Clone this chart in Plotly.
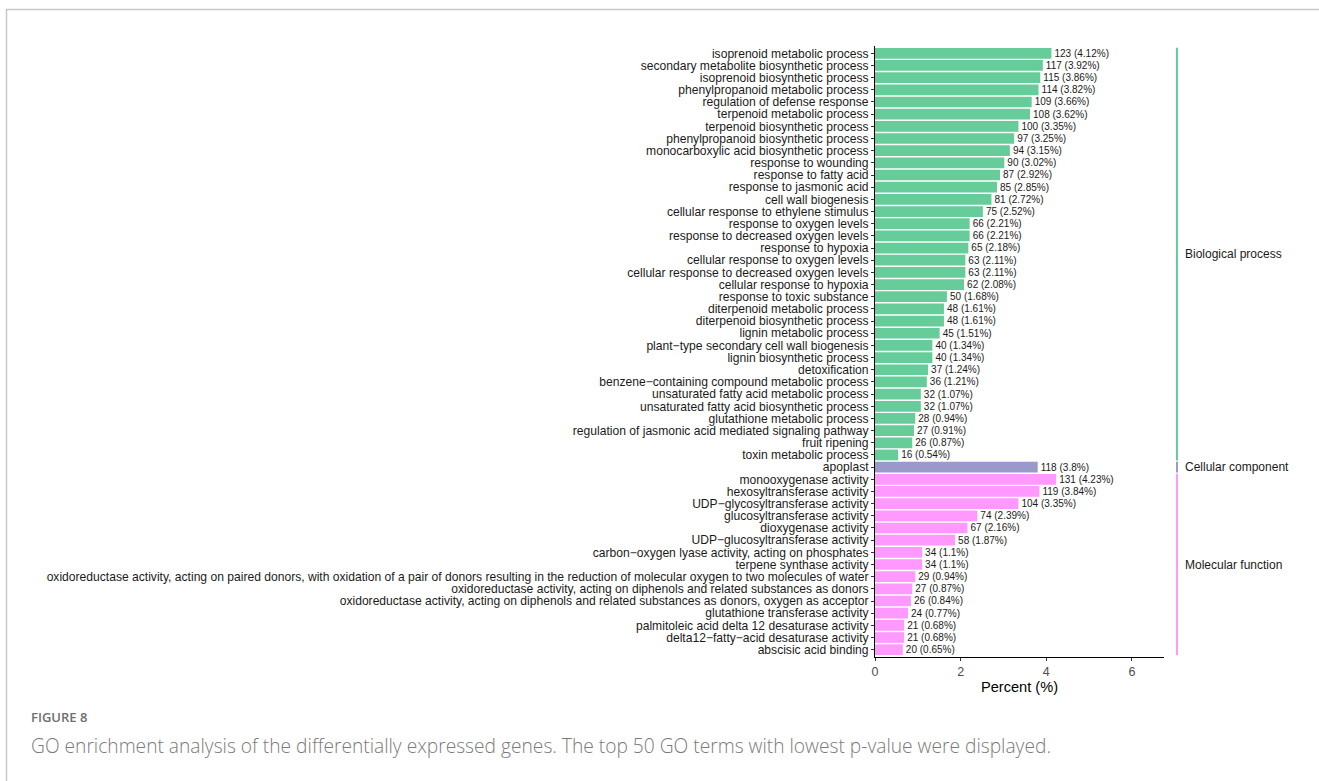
import plotly.graph_objects as go

# GO terms, top to bottom
bp_terms = [
    "isoprenoid metabolic process",
    "secondary metabolite biosynthetic process",
    "isoprenoid biosynthetic process",
    "phenylpropanoid metabolic process",
    "regulation of defense response",
    "terpenoid metabolic process",
    "terpenoid biosynthetic process",
    "phenylpropanoid biosynthetic process",
    "monocarboxylic acid biosynthetic process",
    "response to wounding",
    "response to fatty acid",
    "response to jasmonic acid",
    "cell wall biogenesis",
    "cellular response to ethylene stimulus",
    "response to oxygen levels",
    "response to decreased oxygen levels",
    "response to hypoxia",
    "cellular response to oxygen levels",
    "cellular response to decreased oxygen levels",
    "cellular response to hypoxia",
    "response to toxic substance",
    "diterpenoid metabolic process",
    "diterpenoid biosynthetic process",
    "lignin metabolic process",
    "plant\u2212type secondary cell wall biogenesis",
    "lignin biosynthetic process",
    "detoxification",
    "benzene\u2212containing compound metabolic process",
    "unsaturated fatty acid metabolic process",
    "unsaturated fatty acid biosynthetic process",
    "glutathione metabolic process",
    "regulation of jasmonic acid mediated signaling pathway",
    "fruit ripening",
    "toxin metabolic process",
]
bp_counts = [123, 117, 115, 114, 109, 108, 100, 97, 94, 90, 87, 85, 81, 75, 66, 66, 65,
             63, 63, 62, 50, 48, 48, 45, 40, 40, 37, 36, 32, 32, 28, 27, 26, 16]
bp_percent = [4.12, 3.92, 3.86, 3.82, 3.66, 3.62, 3.35, 3.25, 3.15, 3.02, 2.92, 2.85, 2.72,
              2.52, 2.21, 2.21, 2.18, 2.11, 2.11, 2.08, 1.68, 1.61, 1.61, 1.51, 1.34, 1.34,
              1.24, 1.21, 1.07, 1.07, 0.94, 0.91, 0.87, 0.54]

cc_terms = ["apoplast"]
cc_counts = [118]
cc_percent = [3.8]

mf_terms = [
    "monooxygenase activity",
    "hexosyltransferase activity",
    "UDP\u2212glycosyltransferase activity",
    "glucosyltransferase activity",
    "dioxygenase activity",
    "UDP\u2212glucosyltransferase activity",
    "carbon\u2212oxygen lyase activity, acting on phosphates",
    "terpene synthase activity",
    "oxidoreductase activity, acting on paired donors, with oxidation of a pair of donors "
    "resulting in the reduction of molecular oxygen to two molecules of water",
    "oxidoreductase activity, acting on diphenols and related substances as donors",
    "oxidoreductase activity, acting on diphenols and related substances as donors, oxygen as acceptor",
    "glutathione transferase activity",
    "palmitoleic acid delta 12 desaturase activity",
    "delta12\u2212fatty\u2212acid desaturase activity",
    "abscisic acid binding",
]
mf_counts = [131, 119, 104, 74, 67, 58, 34, 34, 29, 27, 26, 24, 21, 21, 20]
mf_percent = [4.23, 3.84, 3.35, 2.39, 2.16, 1.87, 1.1, 1.1, 0.94, 0.87, 0.84, 0.77, 0.68,
              0.68, 0.65]

groups = ["Biological process", "Cellular component", "Molecular function"]
group_colors = ["#66CC99", "#9999CC", "#FF99FF"]
x_ticks = [0, 2, 4, 6]

all_terms = bp_terms + cc_terms + mf_terms

SANS = "Liberation Sans, Arial, Helvetica, sans-serif"

# Plot area in pixels (page is 1319 x 781)
W, H = 1319, 781
L, R, T, B = 875, 1164, 46, 657


def px_x(px):
    return (px - L) / (R - L)


def px_y(py):
    return (B - py) / (B - T)


fig = go.Figure()
series = [
    (bp_terms, bp_counts, bp_percent),
    (cc_terms, cc_counts, cc_percent),
    (mf_terms, mf_counts, mf_percent),
]
for (terms, counts, pct), name, color in zip(series, groups, group_colors):
    fig.add_trace(go.Bar(
        y=terms,
        x=pct,
        orientation="h",
        name=name,
        marker=dict(color=color, line=dict(width=0)),
        width=0.88,
        text=[f"{c} ({p:g}%)" for c, p in zip(counts, pct)],
        textposition="outside",
        textfont=dict(size=10.3, color="#1a1a1a", family=SANS),
        cliponaxis=False,
        showlegend=False,
    ))

# group brackets on the right
start = 0
shapes = []
annotations = []
for terms, name, color in zip([bp_terms, cc_terms, mf_terms], groups, group_colors):
    n = len(terms)
    y0, y1 = start - 0.45, start + n - 1 + 0.45
    shapes.append(dict(type="line", xref="paper", yref="y",
                       x0=px_x(1177), x1=px_x(1177), y0=y0, y1=y1,
                       line=dict(color=color, width=2)))
    annotations.append(dict(xref="paper", yref="y", x=px_x(1183),
                            y=start + (n - 1) / 2, text=name, showarrow=False,
                            xanchor="left", yanchor="middle",
                            font=dict(size=12, color="#1a1a1a", family=SANS)))
    start += n

# page frame
shapes.append(dict(type="line", xref="paper", yref="paper",
                   x0=px_x(6), x1=px_x(W + 5), y0=px_y(9.5), y1=px_y(9.5),
                   line=dict(color="#c8c8c8", width=1.5)))
shapes.append(dict(type="line", xref="paper", yref="paper",
                   x0=px_x(6.5), x1=px_x(6.5), y0=px_y(9), y1=px_y(H + 5),
                   line=dict(color="#c8c8c8", width=1.5)))

# caption
annotations.append(dict(xref="paper", yref="paper", x=px_x(29), y=px_y(717),
                        text="FIGURE 8", showarrow=False, xanchor="left", yanchor="middle",
                        font=dict(size=13, color="#6e6e6e", family="Open Sans", weight=600)))
annotations.append(dict(xref="paper", yref="paper", x=px_x(29), y=px_y(745),
                        text="GO enrichment analysis of the differentially expressed genes. "
                             "The top 50 GO terms with lowest p-value were displayed.",
                        showarrow=False, xanchor="left", yanchor="middle",
                        font=dict(size=19.2, color="#7a7a7a", family="Open Sans", weight=300)))

fig.update_layout(
    width=W, height=H,
    margin=dict(l=L, r=W - R, t=T, b=H - B, pad=0),
    paper_bgcolor="white", plot_bgcolor="white",
    barmode="overlay",
    font=dict(family=SANS, color="#1a1a1a"),
    shapes=shapes,
    annotations=annotations,
    xaxis=dict(
        range=[0, 6.75], tickvals=x_ticks, ticktext=[str(v) for v in x_ticks],
        showgrid=False, zeroline=False, showline=True, linecolor="black", linewidth=1,
        ticks="outside", ticklen=3, tickcolor="#333333",
        tickfont=dict(size=12.5, color="#4d4d4d"),
        title=dict(text="Percent (%)", font=dict(size=14.6, color="black"), standoff=1),
    ),
    yaxis=dict(
        categoryorder="array", categoryarray=all_terms,
        tickmode="array", tickvals=all_terms, ticktext=all_terms,
        range=[len(all_terms) - 0.4, -0.6],
        showgrid=False, zeroline=False, showline=True, linecolor="black", linewidth=1,
        ticks="outside", ticklen=3, tickcolor="#333333",
        tickfont=dict(size=12.1, color="#1a1a1a"),
    ),
)

fig.write_html("out.html")
